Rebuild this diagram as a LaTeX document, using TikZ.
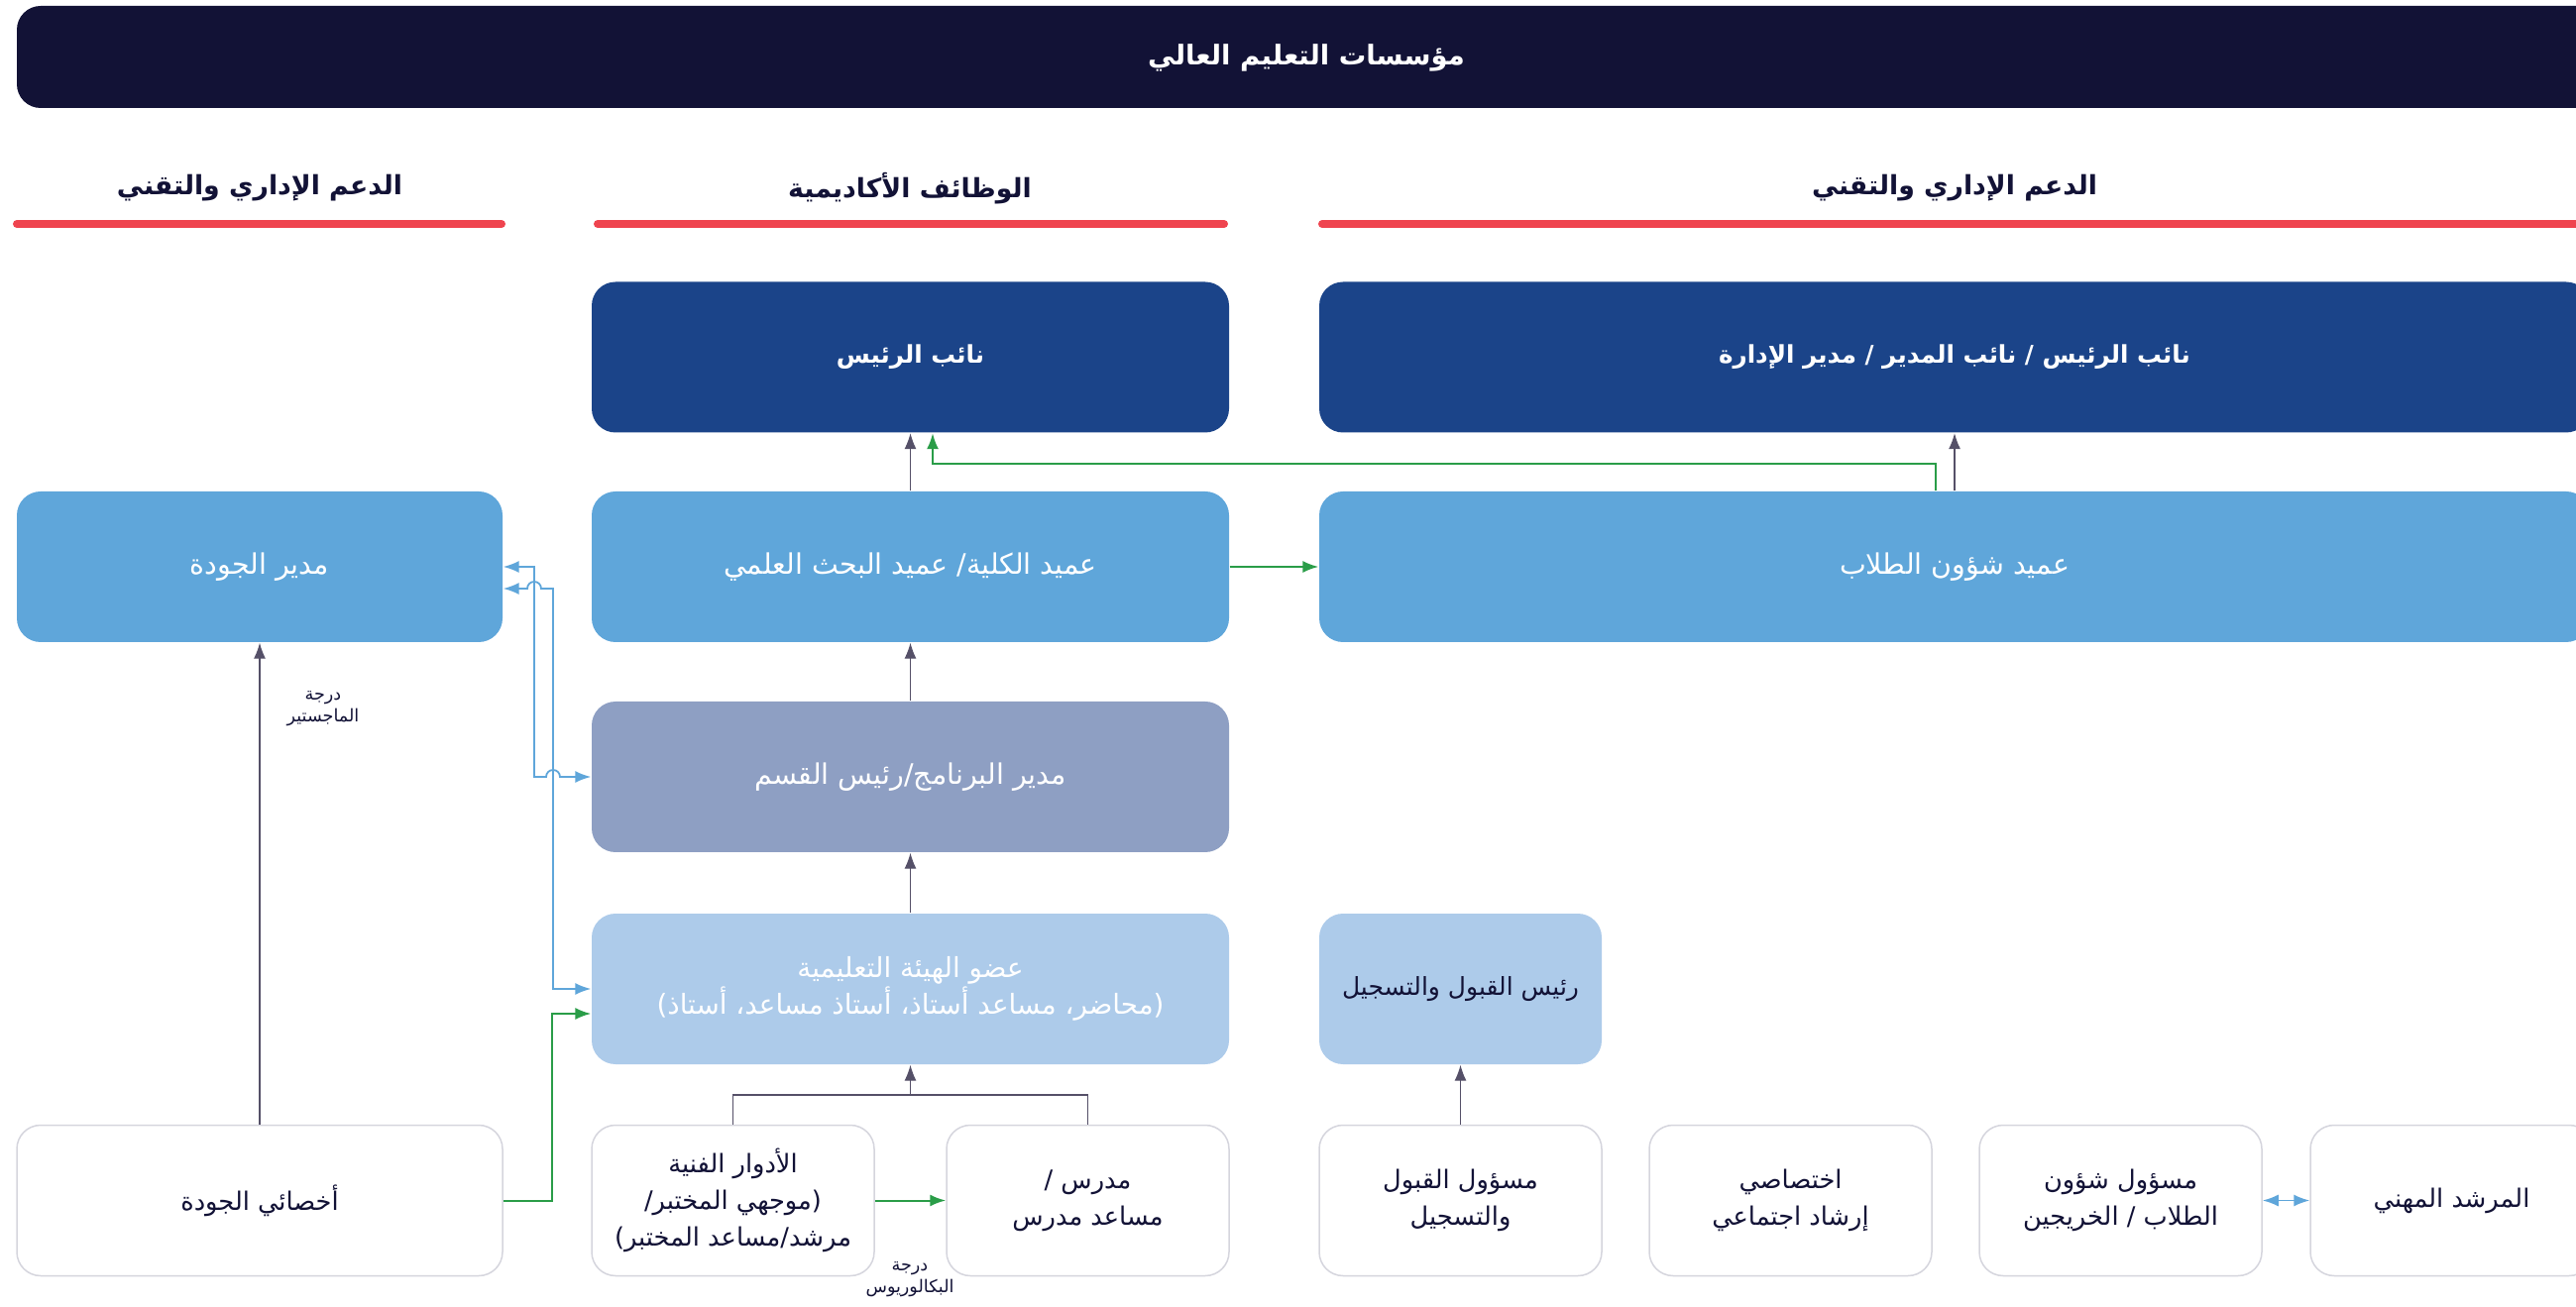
\documentclass[tikz,border=0pt]{standalone}
\usepackage{fontspec}
\usepackage{xcolor}
\usepackage{tikz}
\usetikzlibrary{arrows.meta}
\TeXXeTstate=1
\newfontfamily\arabicfont[Script=Arabic]{DejaVu Sans}
\newcommand{\arline}[1]{\beginR #1\endR}
\definecolor{titlecol}{HTML}{121236}
\definecolor{darkbox}{HTML}{1B4489}
\definecolor{midbox}{HTML}{5FA6DA}
\definecolor{progbox}{HTML}{8E9FC3}
\definecolor{lightbox}{HTML}{ADCBEA}
\definecolor{redbar}{HTML}{EF444F}
\definecolor{greenln}{HTML}{2A9D48}
\definecolor{grayln}{HTML}{555068}
\definecolor{blueln}{HTML}{5FA6DA}
\definecolor{boxedge}{HTML}{D5D5DD}

\begin{document}
\begin{tikzpicture}[x=0.1mm, y=-0.1mm, >={Latex[length=1.6mm,width=1.2mm]},
  box/.style={rectangle, rounded corners=2.4mm, inner sep=0pt, align=center,
    minimum height=15.2mm, font=\arabicfont\fontsize{8.1}{10.5}\selectfont},
  wide/.style={box, minimum width=64.3mm},
  small/.style={box, minimum width=28.5mm},
  whitebox/.style={small, fill=white, draw=boxedge, line width=0.15mm, text=titlecol,
    font=\arabicfont\fontsize{7.3}{10.5}\selectfont},
  topbox/.style={fill=darkbox, text=white, font=\arabicfont\bfseries\fontsize{7}{9}\selectfont},
  head/.style={font=\arabicfont\bfseries\fontsize{7.6}{9}\selectfont, text=titlecol},
  tag/.style={align=center, text=titlecol, font=\arabicfont\fontsize{5}{6.3}\selectfont},
  bar/.style={redbar, line width=0.8mm, line cap=round},
  grayarr/.style={->, grayln, line width=0.12mm},
  greenarr/.style={->, greenln, line width=0.2mm},
  bluearr/.style={<->, blueln, line width=0.18mm}]
\useasboundingbox (0,0) rectangle (2599,1319);
\clip (0,0) rectangle (2599,1319);
%==================== Titolo ==================
\fill[titlecol, rounded corners=2.4mm] (17,6) rectangle (2680,109);
\node[head, text=white, font=\arabicfont\bfseries\fontsize{7.8}{9}\selectfont] (title) at (1318,58) {\arline{مؤسسات التعليم العالي}};
%==================== Intestazioni ==================
\node[head] (headl) at (262,190) {\arline{الدعم الإداري والتقني}};
\node[head] (headm) at (918,190) {\arline{الوظائف الأكاديمية}};
\node[head] (headr) at (1972,190) {\arline{الدعم الإداري والتقني}};
\draw[bar] (17,226) -- (506,226);
\draw[bar] (603,226) -- (1235,226);
\draw[bar] (1334,226) -- (2700,226);
%==================== Riga 1 ==================
\node[wide, topbox] (vp) at (918.5,360.5) {\arline{نائب الرئيس}};
\node[box, minimum width=128.2mm, topbox] (vpadm) at (1972,360.5) {\arline{نائب الرئيس / نائب المدير / مدير الإدارة}};
%==================== Riga 2 ==================
\node[box, minimum width=49mm, fill=midbox, text=white] (qmgr) at (262,572) {\arline{مدير الجودة}};
\node[wide, fill=midbox, text=white] (dean) at (918.5,572) {\arline{عميد الكلية/ عميد البحث العلمي}};
\node[box, minimum width=128.2mm, fill=midbox, text=white] (sdean) at (1972,572) {\arline{عميد شؤون الطلاب}};
%==================== Riga 3 e 4 ==================
\node[wide, fill=progbox, text=white] (pmgr) at (918.5,784) {\arline{مدير البرنامج/رئيس القسم}};
\node[wide, fill=lightbox, text=white, font=\arabicfont\fontsize{7.9}{10.5}\selectfont] (faculty) at (918.5,998) {\arline{عضو الهيئة التعليمية}\\\arline{(محاضر، مساعد أستاذ، أستاذ مساعد، أستاذ)}};
\node[small, fill=lightbox, text=titlecol, font=\arabicfont\fontsize{7.1}{9}\selectfont] (admhead) at (1473.5,998) {\arline{رئيس القبول والتسجيل}};
%==================== Riga 5 ==================
\node[whitebox, minimum width=49mm] (qspec) at (262,1211.5) {\arline{أخصائي الجودة}};
\node[whitebox] (techroles) at (739.5,1211.5) {\arline{الأدوار الفنية}\\\arline{(موجهي المختبر/}\\\arline{مرشد/مساعد المختبر)}};
\node[whitebox] (teacher) at (1097.5,1211.5) {\arline{مدرس /}\\\arline{مساعد مدرس}};
\node[whitebox] (admoff) at (1473.5,1211.5) {\arline{مسؤول القبول}\\\arline{والتسجيل}};
\node[whitebox] (socspec) at (1806.5,1211.5) {\arline{اختصاصي}\\\arline{إرشاد اجتماعي}};
\node[whitebox] (stuoff) at (2139.5,1211.5) {\arline{مسؤول شؤون}\\\arline{الطلاب / الخريجين}};
\node[whitebox] (career) at (2473.5,1211.5) {\arline{المرشد المهني}};
%==================== Frecce ==================
\coordinate (gturn) at (1953,468);
\coordinate (gq) at (557,1023);
\coordinate (join) at (918.5,1105);
\coordinate (b1) at (539,784);
\coordinate (b2) at (558,594);
\draw[grayarr] (dean.north) -- (vp.south);
\draw[grayarr] (sdean.north) -- (vpadm.south);
\draw[greenarr] (gturn |- sdean.north) -- (gturn) -| ([xshift=2.25mm]vp.south);
\draw[greenarr] (dean.east) -- (sdean.west);
\draw[grayarr] (pmgr.north) -- (dean.south);
\draw[grayarr] (faculty.north) -- (pmgr.south);
\draw[grayln, line width=0.12mm] (techroles.north) |- (join) -| (teacher.north);
\draw[grayarr] (join) -- (faculty.south);
\draw[greenarr] (techroles.east) -- (teacher.west);
\draw[grayarr] (qspec.north) -- (qmgr.south);
\draw[greenarr] (qspec.east) -| (gq) -- (gq -| faculty.west);
\draw[bluearr] (qmgr.east) -| (b1) -- (551,784) arc[start angle=180, end angle=0, radius=0.7mm] -- (pmgr.west);
\draw[bluearr] (b2 -| qmgr.east) -- (532,594) arc[start angle=180, end angle=0, radius=0.7mm] -- (b2) |- (faculty.west);
\draw[bluearr] (stuoff.east) -- (career.west);
\draw[grayarr] (admoff.north) -- (admhead.south);
%==================== Etichette ==================
\node[tag] (mastertag) at (326,715) {\arline{درجة}\\\arline{الماجستير}};
\node[tag] (bachtag) at (918,1291) {\arline{درجة}\\\arline{البكالوريوس}};
\end{tikzpicture}
\end{document}
